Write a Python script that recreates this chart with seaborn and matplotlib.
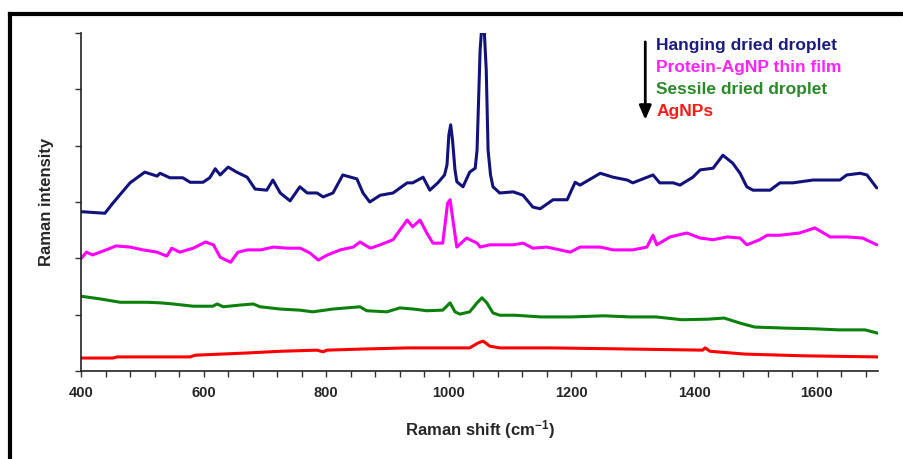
import numpy as np
import pandas as pd
import matplotlib
matplotlib.use("Agg")
import matplotlib.pyplot as plt
from matplotlib.lines import Line2D
import seaborn as sns

# Raman spectra (arbitrary intensity units, offset for display)
hanging_x = [398, 439, 452, 480, 504, 524, 529, 545, 566, 578, 599, 610, 619, 627, 640, 654, 671,
             684, 703, 713, 725, 741, 757, 769, 785, 795, 811, 827, 850, 860, 871, 888, 909, 932,
             941, 958, 969, 982, 993, 997, 1000, 1003, 1006, 1010, 1013, 1023, 1034, 1043, 1046,
             1049, 1051, 1053, 1058, 1061, 1064, 1068, 1072, 1083, 1105, 1121, 1137, 1149, 1170,
             1193, 1206, 1214, 1247, 1268, 1291, 1300, 1333, 1344, 1366, 1377, 1398, 1410, 1431,
             1447, 1463, 1475, 1486, 1496, 1512, 1524, 1540, 1561, 1594, 1617, 1638, 1649, 1671,
             1682, 1698]
hanging_y = [283, 280, 298, 334, 353, 346, 351, 343, 343, 335, 335, 343, 359, 348, 362, 353, 344,
             323, 321, 339, 316, 302, 327, 316, 316, 309, 316, 348, 341, 316, 300, 312, 316, 334,
             334, 344, 321, 334, 348, 366, 419, 437, 410, 357, 336, 327, 353, 360, 392,
             499, 570, 600, 600, 534, 392, 348, 327, 316, 318, 312, 291, 288, 304,
             304, 335, 330, 351, 344, 339, 334, 348, 334, 334, 330, 344, 357, 360,
             383, 369, 351, 327, 321, 321, 321, 334, 334, 339, 339, 339, 348, 351,
             348, 325]

film_x = [398, 409, 419, 441, 457, 480, 501, 524, 540, 548, 561, 583, 603, 616, 627, 644, 656,
          672, 693, 714, 737, 758, 774, 787, 802, 823, 844, 855, 872, 888, 909, 920, 932, 941,
          953, 964, 974, 990, 998, 1002, 1006, 1013, 1029, 1046, 1051, 1067, 1105, 1121, 1137,
          1160, 1181, 1198, 1214, 1247, 1268, 1300, 1323, 1333, 1339, 1361, 1388, 1410, 1431,
          1454, 1475, 1486, 1507, 1519, 1540, 1572, 1597, 1622, 1649, 1675, 1698]
film_y = [197, 211, 206, 215, 222, 220, 215, 211, 204, 218, 211, 218, 229, 224, 202, 193, 211,
          215, 215, 220, 218, 218, 209, 197, 206, 215, 220, 229, 218, 224, 233, 250, 268, 256,
          268, 245, 227, 227, 298, 304, 273, 220, 236, 227, 220, 224, 224, 227, 218,
          220, 215, 211, 220, 220, 215, 215, 220, 241, 224, 238, 245, 236, 233,
          238, 236, 224, 233, 241, 241, 245, 254, 238, 238, 236, 224]

sessile_x = [398, 431, 464, 508, 529, 550, 583, 615, 622, 632, 659, 681, 692, 725, 757, 778, 811,
             855, 866, 899, 920, 942, 964, 990, 1002, 1010, 1018, 1034, 1046, 1054, 1062, 1072,
             1083, 1108, 1150, 1201, 1253, 1295, 1338, 1380, 1423, 1449, 1475, 1499, 1552, 1594,
             1636, 1679, 1700]
sessile_y = [133, 128, 122, 122, 121, 119, 115, 115, 119, 114, 117, 119, 114, 110, 108, 105, 110,
             114, 107, 105, 112, 110, 107, 108, 121, 105, 101, 105, 121, 130, 121, 103,
             99, 99, 96, 96, 98, 96, 96, 91, 92, 94, 85, 78, 76, 75,
             73, 73, 67]

agnp_x = [398, 452, 459, 578, 586, 671, 725, 785, 795, 801, 860, 932, 1034, 1048, 1056, 1067,
          1083, 1167, 1295, 1414, 1418, 1426, 1483, 1578, 1700]
agnp_y = [23, 23, 25, 25, 28, 32, 35, 37, 34, 37, 39, 41, 41, 50, 53, 44,
          41, 41, 39, 37, 41, 35, 30, 27, 25]

series_names = ["Hanging dried droplet", "Protein-AgNP thin film",
                "Sessile dried droplet", "AgNPs"]
line_colors = ["#12127c", "#ff00ff", "#0b800b", "#ff0000"]
text_colors = ["#1c1c80", "#ff22ff", "#2a8a2a", "#ff1a1a"]

x_ticks = list(range(400, 1700, 40))
x_ticklabels = [str(t) if (t - 400) % 200 == 0 else "" for t in x_ticks]
y_ticks = [0, 100, 200, 300, 400, 500, 600]

frames = []
for name, xs, ys in zip(series_names,
                        [hanging_x, film_x, sessile_x, agnp_x],
                        [hanging_y, film_y, sessile_y, agnp_y]):
    frames.append(pd.DataFrame({"shift": xs, "intensity": ys, "sample": name}))
df = pd.concat(frames, ignore_index=True)

sns.set_theme(style="ticks")
plt.rcParams["font.family"] = ["Liberation Sans", "DejaVu Sans"]
plt.rcParams["mathtext.fontset"] = "custom"
plt.rcParams["mathtext.rm"] = "Liberation Sans:bold"
plt.rcParams["mathtext.bf"] = "Liberation Sans:bold"
plt.rcParams["mathtext.it"] = "Liberation Sans:bold"

fig = plt.figure(figsize=(9.04, 4.59), dpi=100)
ax = fig.add_axes([81 / 904, 88 / 459, 797 / 904, 338 / 459])

sns.lineplot(data=df, x="shift", y="intensity", hue="sample", hue_order=series_names,
             palette=line_colors, linewidth=2.2, legend=False, ax=ax, sort=False,
             estimator=None)

ax.set_xlim(400, 1700)
ax.set_ylim(0, 600)
ax.set_xticks(x_ticks)
ax.set_xticklabels(x_ticklabels, fontsize=10.5, fontweight="bold")
ax.set_yticks(y_ticks)
ax.set_yticklabels([])
ax.tick_params(axis="both", direction="out", length=4.5, width=1, color="#333333", pad=6)
for side in ["top", "right"]:
    ax.spines[side].set_visible(False)
for side in ["left", "bottom"]:
    ax.spines[side].set_color("#222222")
    ax.spines[side].set_linewidth(1.2)

ax.set_xlabel("Raman shift (cm$^{-1}$)", fontsize=12, fontweight="bold", labelpad=13)
ax.set_ylabel("Raman intensity", fontsize=12, fontweight="bold", labelpad=9)

# Sample order legend with downward arrow
ax.annotate("", xy=(0.708, 0.735), xytext=(0.708, 0.982), xycoords="axes fraction",
            arrowprops=dict(arrowstyle="-|>,head_length=0.7,head_width=0.3", color="black",
                            lw=2))
legend_rows = [0.962, 0.899, 0.834, 0.769]
for name, color, ypos in zip(series_names, text_colors, legend_rows):
    ax.text(0.722, ypos, name, transform=ax.transAxes, color=color, fontsize=12.5,
            fontweight="bold", va="center", ha="left")

# Black frame lines along the top and left edges
fig.add_artist(Line2D([10 / 904, 10 / 904], [0, 1 - 14 / 459], color="black", lw=3,
                      transform=fig.transFigure, solid_capstyle="projecting"))
fig.add_artist(Line2D([10 / 904, 1], [1 - 14 / 459, 1 - 14 / 459], color="black", lw=3,
                      transform=fig.transFigure, solid_capstyle="projecting"))

fig.savefig("out.png", dpi=100, facecolor="white")
